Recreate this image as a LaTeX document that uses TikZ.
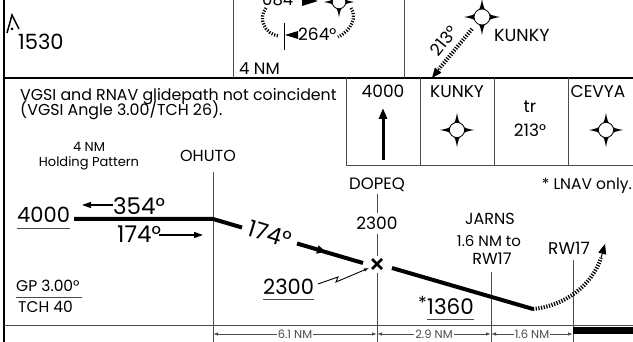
\documentclass[tikz,border=0pt]{standalone}
\usepackage{fontspec}
\setmainfont{Poppins}
\usetikzlibrary{arrows.meta,positioning}
\definecolor{rulegray}{gray}{0.3}
\tikzset{
	x=1pt,
	y=-1pt,
	>={Latex[length=5pt,width=3.5pt]},
	frame/.style={line width=2.4pt, black},
	rule/.style={line width=0.9pt, rulegray},
	track/.style={line width=4pt, black},
	dotpath/.style={line width=4pt, dash pattern=on 1.2pt off 1.5pt},
	txt/.style={inner sep=0pt, font=\fontsize{16}{18}\selectfont},
	boxtxt/.style={inner sep=0pt, font=\fontsize{17}{19}\selectfont},
	bigtxt/.style={inner sep=0pt, font=\fontsize{23}{25}\selectfont},
	dimtxt/.style={inner sep=1pt, fill=white, font=\fontsize{11.5}{12}\selectfont},
	fixstar/.pic={
		\fill (0,-18) .. controls (2,-5) and (5,-2) .. (18,0)
			.. controls (5,2) and (2,5) .. (0,18)
			.. controls (-2,5) and (-5,2) .. (-18,0)
			.. controls (-5,-2) and (-2,-5) .. cycle;
		\filldraw[fill=white, line width=0.8pt] (0,0) circle (8pt);
	}
}

\begin{document}
\begin{tikzpicture}
	\clip (0,0) rectangle (633,342);
	\fill[white] (0,0) rectangle (633,342);

	% frame
	\draw[frame] (4,-5) -- (4,350);
	\draw[frame] (4,78) -- (640,78);
	\draw[rule] (233,-5) -- (233,78);
	\draw[rule] (404,-5) -- (404,78);
	\draw[rule] (346,78) -- (346,165) -- (640,165);
	\foreach \xd in {420,494,568}
		\draw[rule] (\xd,78) -- (\xd,165);
	\draw[rule] (4,325) -- (640,325);

	% plan view
	\draw[line width=1.5pt] (7,33) -- (12,15) -- (19,29);
	\fill (12,29) circle (1.5pt);
	\node [bigtxt, anchor=base west, font=\fontsize{21}{23}\selectfont] (obst) at (18,50) {1530};
	\node [txt, anchor=base west, font=\fontsize{16.5}{18}\selectfont] (legnm) at (239,75) {4 NM};
	\node [txt, anchor=base west, font=\fontsize{16.5}{18}\selectfont] (inbd) at (262,6) {084};
	\fill (302,-4) -- (318,1) -- (302,6) -- cycle;
	\pic[scale=0.85] at (339,2) {fixstar};
	\draw[dotpath, line width=3.2pt] (266,8) .. controls (258,18) and (264,34) .. (279,36);
	\draw[dotpath, line width=3.2pt] (351,8) .. controls (357,17) and (352,30) .. (338,37);
	\draw[rule, black] (284,23) -- (284,50);
	\fill (285,35) -- (298,31) -- (298,39) -- cycle;
	\node [txt, anchor=base west, font=\fontsize{17}{19}\selectfont] (outbd) at (298,41) {264°};

	\pic at (482,17) {fixstar};
	\node [txt, anchor=base west, font=\fontsize{17.5}{19}\selectfont] (kunky) at (494,42) {KUNKY};
	\coordinate (kcrs) at (472,29);
	\coordinate (kend) at (439,69);
	\draw[dotpath] (kcrs) -- (kend);
	\draw[line width=1pt, -{Triangle[length=10pt,width=8pt]}] (kend) -- (432,78);
	\node [txt, rotate=51, font=\fontsize{17}{19}\selectfont] (kcourse) at (444,41) {213°};

	% notes and minimums box
	\node [txt, anchor=base west, font=\fontsize{15.8}{17}\selectfont] (note1) at (20,101) {VGSI and RNAV glidepath not coincident};
	\node [txt, anchor=base west, font=\fontsize{15.8}{17}\selectfont] (note2) at (20,116) {(VGSI Angle 3.00/TCH 26).};
	\node [txt, anchor=base, font=\fontsize{13}{14}\selectfont] (hold1) at (89,152) {4 NM};
	\node [txt, anchor=base, font=\fontsize{13}{14}\selectfont] (hold2) at (89,167) {Holding Pattern};

	\node [boxtxt, anchor=base] (alt) at (383,98) {4000};
	\draw[line width=3pt, -{Triangle[length=11pt,width=8pt]}] (383,160) -- (383,108);
	\node [boxtxt, anchor=base] (kbox) at (457,98) {KUNKY};
	\pic[scale=0.95] at (457,130) {fixstar};
	\node [boxtxt, anchor=base] (trk) at (530,113) {tr};
	\node [boxtxt, anchor=base] (trkdeg) at (530,137) {213°};
	\node [boxtxt, anchor=base] (cevya) at (598,98) {CEVYA};
	\pic[scale=0.95] at (606,130) {fixstar};
	\node [txt, anchor=base east, font=\fontsize{15.5}{17}\selectfont] (lnav) at (632,190) {* LNAV only.};

	% profile fixes
	\node [txt, anchor=base] (ohuto) at (208,162) {OHUTO};
	\draw[rule] (213,172) -- (213,345);
	\node [txt, anchor=base, font=\fontsize{16.5}{18}\selectfont] (dopeq) at (377,190) {DOPEQ};
	\node [txt, anchor=base, font=\fontsize{17}{19}\selectfont] (dopalt) at (377,230) {2300};
	\draw[rule] (377,194) -- (377,213);
	\draw[rule] (377,234) -- (377,256);
	\draw[rule] (377,273) -- (377,345);
	\draw[line width=2.8pt] (372,259) -- (382,269) (382,259) -- (372,269);
	\node [txt, anchor=base] (jarns) at (490,225) {JARNS};
	\node [txt, anchor=base, font=\fontsize{15}{17}\selectfont] (jarns2) at (489,247) {1.6 NM to};
	\node [txt, anchor=base] (jarns3) at (492,265) {RW17};
	\draw[rule] (491,272) -- (491,345);
	\node [txt, anchor=base, font=\fontsize{17}{19}\selectfont] (rwy) at (569,255) {RW17};
	\draw[rule] (573,260) -- (573,345);

	% profile track
	\coordinate (fixo) at (213,219);
	\coordinate (fixd) at (377,266);
	\coordinate (mapt) at (533,309);
	\node [bigtxt, anchor=base west, font=\fontsize{21}{23}\selectfont] (hold) at (17,223) {4000};
	\draw[rule] ([yshift=-5pt]hold.south west) -- ([yshift=-5pt]hold.south east);
	\draw[track] (74,219) -- (fixo) -- (242,227.5);
	\node [bigtxt, rotate=-17] (crs) at (270,234) {174°};
	\draw[track, -{Triangle[length=9pt,width=8pt]}] (297,243.5) -- (326,252);
	\draw[track] (322,251) -- (363,263);
	\draw[track] (392,268) -- (mapt);
	\draw[dotpath] (mapt) .. controls (565,306) and (592,285) .. (601,258);
	\draw[line width=1pt, -{Triangle[length=10pt,width=8pt]}] (601,258) -- (605,244);
	\node [bigtxt, anchor=base west] (crsout) at (113,215) {354°};
	\draw[line width=1.2pt, -{Triangle[length=9pt,width=6pt]}] (113,205) -- (82,205);
	\node [bigtxt, anchor=base west] (crsin) at (117,243) {174°};
	\draw[line width=1.2pt, -{Triangle[length=9pt,width=6pt]}] (159,235) -- (203,235);

	\node [txt, anchor=base west, font=\fontsize{15.5}{17}\selectfont] (gp) at (16,292) {GP 3.00°};
	\draw[rule] (16,297) -- (82,297);
	\node [txt, anchor=base west, font=\fontsize{15.5}{17}\selectfont] (tch) at (18,313) {TCH 40};

	\node [bigtxt, anchor=base west, font=\fontsize{21}{23}\selectfont] (dalt) at (263,295) {2300};
	\draw[rule] ([yshift=-4pt]dalt.south west) -- ([yshift=-4pt]dalt.south east);
	\draw[line width=0.9pt, ->] (318,284) -- (338,277) -- (336,282) -- (369,268);

	\node [txt, anchor=base east, font=\fontsize{18}{20}\selectfont] (star) at (427,310) {*};
	\node [bigtxt, anchor=base west, font=\fontsize{21.5}{23}\selectfont] (sdf) at (427,315) {1360};
	\draw[rule] ([yshift=-4pt]sdf.south west) -- ([yshift=-4pt]sdf.south east);

	% distances
	\coordinate (d0) at (213,334);
	\coordinate (d1) at (377,334);
	\coordinate (d2) at (491,334);
	\coordinate (d3) at (573,334);
	\draw[rule, <->] (d0) -- node [dimtxt] {6.1 NM} (d1);
	\draw[rule, <->] (d1) -- node [dimtxt] {2.9 NM} (d2);
	\draw[rule, <->] (d2) -- node [dimtxt] {1.6 NM} (d3);
	\fill (573,327) rectangle (640,334);
\end{tikzpicture}
\end{document}
